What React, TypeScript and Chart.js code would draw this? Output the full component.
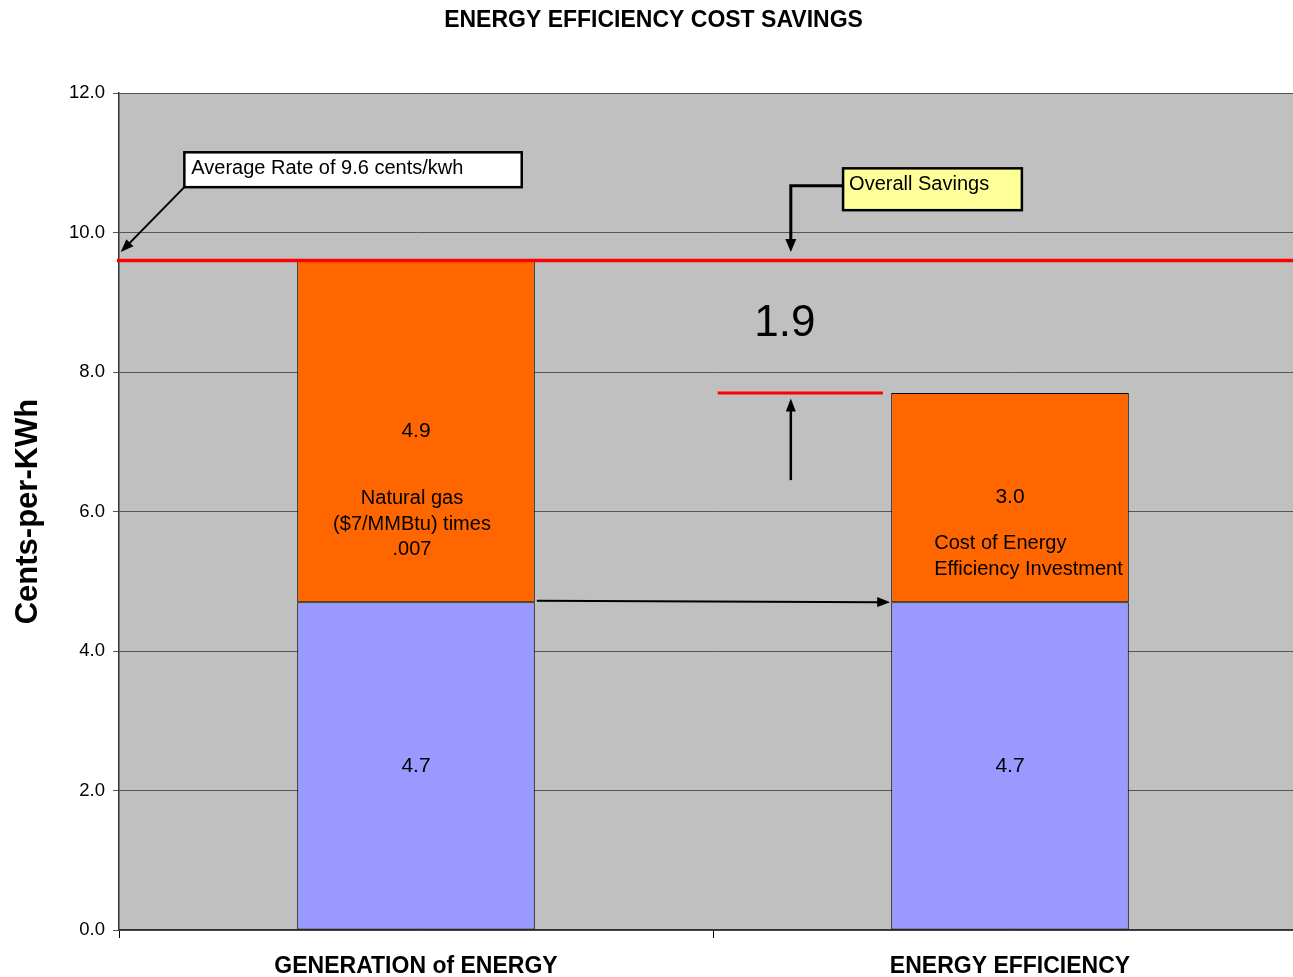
import React, { useEffect, useRef } from 'react';
import { Chart, registerables } from 'chart.js';

Chart.register(...registerables);

// ---------- data ----------
const categories = ['GENERATION of ENERGY', 'ENERGY EFFICIENCY'];
const baseCost = [4.7, 4.7];
const upperCost = [4.9, 3.0];
const upperNotes = [
  ['Natural gas', '($7/MMBtu) times', '.007'],
  ['Cost of Energy', 'Efficiency Investment'],
];
const averageRate = 9.6;
const overallSavings = 1.9;
const yTickLabels = ['0.0', '2.0', '4.0', '6.0', '8.0', '10.0', '12.0'];
const chartTitle = 'ENERGY EFFICIENCY COST SAVINGS';
const yAxisTitle = 'Cents-per-KWh';
const averageRateLabel = 'Average Rate of 9.6 cents/kwh';
const savingsLabel = 'Overall Savings';

const FONT = '"Liberation Sans", Arial, sans-serif';

function arrow(ctx: CanvasRenderingContext2D, x1: number, y1: number, x2: number, y2: number, lw: number, head = 12, hw = 5.5) {
  const a = Math.atan2(y2 - y1, x2 - x1);
  const c = Math.cos(a), s = Math.sin(a);
  ctx.lineWidth = lw;
  ctx.beginPath();
  ctx.moveTo(x1, y1);
  ctx.lineTo(x2 - c * head * 0.8, y2 - s * head * 0.8);
  ctx.stroke();
  ctx.beginPath();
  ctx.moveTo(x2, y2);
  ctx.lineTo(x2 - head * c + hw * s, y2 - head * s - hw * c);
  ctx.lineTo(x2 - head * c - hw * s, y2 - head * s + hw * c);
  ctx.closePath();
  ctx.fill();
}

const plotBg = {
  id: 'plotBg',
  beforeDraw(chart: any) {
    const { ctx, chartArea } = chart;
    ctx.save();
    ctx.fillStyle = '#C0C0C0';
    ctx.fillRect(chartArea.left, chartArea.top, chartArea.right - chartArea.left, chartArea.bottom - chartArea.top);
    ctx.restore();
  },
};

const annotations = {
  id: 'annotations',
  afterDatasetsDraw(chart: any) {
    const { ctx, chartArea } = chart;
    const xs = chart.scales.x;
    const ys = chart.scales.y;
    const px = (v: number) => xs.getPixelForValue(v);
    const py = (v: number) => ys.getPixelForValue(v);
    ctx.save();
    ctx.fillStyle = '#000';
    ctx.strokeStyle = '#000';

    // value labels centred in segments
    ctx.textAlign = 'center';
    ctx.textBaseline = 'middle';
    ctx.font = `21px ${FONT}`;
    chart.data.datasets.forEach((ds: any, di: number) => {
      const meta = chart.getDatasetMeta(di);
      meta.data.forEach((el: any, i: number) => {
        ctx.fillText(Number(ds.data[i]).toFixed(1), el.x, (el.y + el.base) / 2);
      });
    });

    // notes in upper segments
    const upperMeta = chart.getDatasetMeta(1);
    ctx.font = `20px ${FONT}`;
    const e0 = upperMeta.data[0];
    upperNotes[0].forEach((t, k) => ctx.fillText(t, e0.x - 4, py(6.18) + k * 25.5));
    const e1 = upperMeta.data[1];
    ctx.textAlign = 'left';
    upperNotes[1].forEach((t, k) => ctx.fillText(t, e1.x - e1.width / 2 + 43, py(5.54) + k * 26));

    // average rate line
    ctx.strokeStyle = '#FF0000';
    ctx.lineWidth = 3.5;
    ctx.beginPath();
    ctx.moveTo(chartArea.left - 2, py(averageRate));
    ctx.lineTo(chartArea.right, py(averageRate));
    ctx.stroke();

    // short red marker at EE total
    ctx.lineWidth = 3;
    ctx.beginPath();
    ctx.moveTo(px(0.508), py(averageRate - overallSavings));
    ctx.lineTo(px(0.786), py(averageRate - overallSavings));
    ctx.stroke();

    ctx.strokeStyle = '#000';
    ctx.fillStyle = '#000';

    // savings value
    ctx.textAlign = 'center';
    ctx.font = `44px ${FONT}`;
    ctx.fillText(overallSavings.toFixed(1), px(0.621), py(8.69));

    // up arrow
    arrow(ctx, px(0.631), py(6.45), px(0.631), py(7.62), 2.5, 13, 5);

    // horizontal arrow from bar 1 to bar 2 at base level
    const b0 = chart.getDatasetMeta(0).data;
    arrow(ctx, b0[0].x + b0[0].width / 2 + 2, py(baseCost[0]) - 1.5, b0[1].x - b0[1].width / 2 - 1, py(baseCost[1]), 2, 13, 5);

    // Average rate box
    const ax1 = px(-0.39), ax2 = px(0.178), ay1 = py(11.15), ay2 = py(10.65);
    ctx.fillStyle = '#FFFFFF';
    ctx.fillRect(ax1, ay1, ax2 - ax1, ay2 - ay1);
    ctx.lineWidth = 2.5;
    ctx.strokeRect(ax1, ay1, ax2 - ax1, ay2 - ay1);
    ctx.fillStyle = '#000';
    ctx.textAlign = 'left';
    ctx.font = `20px ${FONT}`;
    ctx.fillText(averageRateLabel, ax1 + 7, ay1 + 16);
    arrow(ctx, ax1, ay2, px(-0.497), py(9.72), 2, 13, 5);

    // Overall savings box
    const sx1 = px(0.719), sx2 = px(1.02), sy1 = py(10.92), sy2 = py(10.32);
    ctx.fillStyle = '#FFFF99';
    ctx.fillRect(sx1, sy1, sx2 - sx1, sy2 - sy1);
    ctx.lineWidth = 2.5;
    ctx.strokeRect(sx1, sy1, sx2 - sx1, sy2 - sy1);
    ctx.fillStyle = '#000';
    ctx.fillText(savingsLabel, sx1 + 6, sy1 + 16);
    // connector
    ctx.lineWidth = 3;
    ctx.beginPath();
    ctx.moveTo(sx1, py(10.67));
    ctx.lineTo(px(0.631), py(10.67));
    ctx.lineTo(px(0.631), py(9.95));
    ctx.stroke();
    arrow(ctx, px(0.631), py(9.95), px(0.631), py(9.72), 3, 13, 5.5);

    ctx.restore();
  },
};

export default function App() {
  const ref = useRef<HTMLCanvasElement>(null);
  useEffect(() => {
    const chart = new Chart(ref.current as HTMLCanvasElement, {
      type: 'bar',
      data: {
        labels: categories,
        datasets: [
          { label: 'Base', data: baseCost, backgroundColor: '#9999FF', borderColor: '#000', borderWidth: 1, borderSkipped: false },
          { label: 'Upper', data: upperCost, backgroundColor: '#FF6600', borderColor: '#000', borderWidth: 1, borderSkipped: false },
        ],
      },
      options: {
        responsive: false,
        animation: false,
        devicePixelRatio: 1,
        datasets: { bar: { categoryPercentage: 1, barPercentage: 0.4 } },
        layout: { padding: { left: 0, right: 0, top: 0, bottom: 0 } },
        plugins: {
          legend: { display: false },
          tooltip: { enabled: false },
          title: {
            display: true,
            text: chartTitle,
            color: '#000',
            font: { family: FONT, size: 23, weight: 'bold' },
            padding: { top: 7, bottom: 58.4 },
          },
        },
        scales: {
          x: {
            stacked: true,
            offset: true,
            grid: { display: true, drawOnChartArea: false, tickLength: 8, color: '#000', offset: true },
            border: { color: '#333', width: 1.5 },
            ticks: { color: '#000', font: { family: FONT, size: 23, weight: 'bold' }, padding: 15, maxRotation: 0, autoSkip: false },
            afterFit: (s: any) => { s.height = 47; },
          },
          y: {
            stacked: true,
            min: 0,
            max: 12,
            ticks: {
              stepSize: 2,
              color: '#000',
              font: { family: FONT, size: 18.5 },
              padding: 8,
              callback: (_v: any, i: number) => yTickLabels[i],
            },
            grid: { color: '#555', tickLength: 6 },
            border: { color: '#333', width: 1.5 },
            title: {
              display: true,
              text: yAxisTitle,
              color: '#000',
              font: { family: FONT, size: 31, weight: 'bold' },
              padding: { top: 10, bottom: 0 },
            },
            afterFit: (s: any) => { s.width = 119; },
          },
        },
      },
      plugins: [plotBg, annotations],
    } as any);
    return () => chart.destroy();
  }, []);
  return (
    <div style={{ position: 'fixed', left: 0, top: 0, width: 1293, height: 977, overflow: 'hidden', background: '#fff' }}>
      <canvas ref={ref} width={1307} height={977} style={{ display: 'block', width: 1307, height: 977 }} />
    </div>
  );
}
